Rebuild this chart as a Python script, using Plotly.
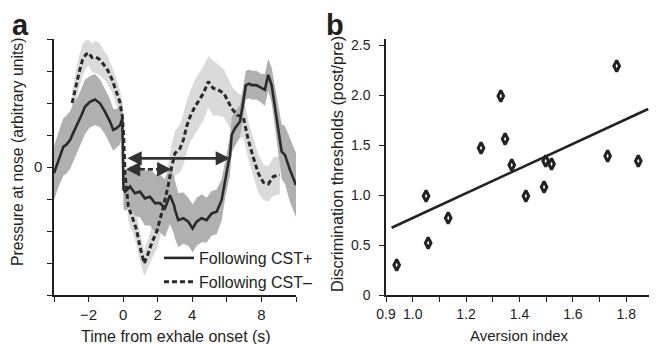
import numpy as np
import plotly.graph_objects as go

# ---------------- Panel a data ----------------
t_plus = [-4.0, -3.75, -3.46, -3.3, -3.07, -2.9, -2.6, -2.4, -2.21, -1.92, -1.63, -1.34, -1.05, -0.76, -0.57, -0.38, -0.18, -0.05,
          0.02, 0.11, 0.4, 0.68, 0.97, 1.26, 1.55, 1.84, 2.13, 2.42,
          2.71, 2.94, 3.0, 3.19, 3.48, 3.77, 4.02, 4.25, 4.54, 4.83,
          5.12, 5.41, 5.7, 5.89, 6.08, 6.18, 6.28, 6.47, 6.76, 6.95,
          7.1, 7.3, 7.43, 7.7, 8.01, 8.2, 8.39, 8.59, 8.88, 9.17,
          9.36, 9.65, 10.0]
v_plus = [-0.19, 0.22, 0.63, 0.69, 0.84, 1.05, 1.37, 1.63, 1.88, 2.04, 2.11, 1.99, 1.73, 1.42, 1.16, 1.21, 1.31, 1.52,
          -0.7, -0.77, -0.61, -0.82, -0.77, -0.98, -0.93, -1.13, -1.13, -1.29,
          -0.88, -1.19, -1.34, -1.66, -1.6, -1.71, -1.92, -1.71, -1.6, -1.66,
          -1.45, -1.4, -1.03, -0.41, 0.11, 0.35, 1.0, 1.21, 1.42, 2.04,
          2.56, 2.6, 2.56, 2.56, 2.46, 2.41, 2.88, 2.56, 1.52, 0.48,
          0.38, -0.09, -0.56]
sem_plus = [0.85, 0.85, 0.9, 0.9, 0.9, 0.9, 0.85, 0.85, 0.85, 0.8, 0.8, 0.75, 0.7, 0.7, 0.65, 0.6, 0.6, 0.55,
            0.6, 0.6, 0.65, 0.7, 0.8, 0.85, 0.9, 0.9, 0.9, 0.9,
            0.9, 0.9, 0.9, 0.85, 0.8, 0.75, 0.75, 0.75, 0.75, 0.7,
            0.7, 0.7, 0.65, 0.6, 0.6, 0.6, 0.55, 0.55, 0.5, 0.5,
            0.45, 0.45, 0.45, 0.45, 0.45, 0.5, 0.5, 0.55, 0.7, 0.85,
            0.9, 1.0, 1.0]

t_minus = [-2.95, -2.75, -2.55, -2.35, -2.15, -2.0, -1.8, -1.6, -1.4, -1.15, -0.9, -0.65, -0.4, -0.2, -0.05,
           0.03, 0.11, 0.3, 0.59, 0.78, 0.97, 1.22, 1.45, 1.65, 1.94,
           2.3, 2.6, 2.81, 3.0, 3.29, 3.48, 3.67, 3.87, 4.15, 4.4,
           4.64, 4.93, 5.21, 5.5, 5.83, 6.28, 6.6, 6.95, 7.24, 7.53,
           7.82, 8.11, 8.4, 8.69, 9.07]
v_minus = [2.0, 2.5, 2.95, 3.35, 3.52, 3.57, 3.42, 3.44, 3.38, 3.22, 3.03, 2.75, 2.35, 2.05, 1.6,
           1.0, -0.2, -1.24, -1.66, -1.97, -2.49, -3.01, -2.7, -2.38, -2.02,
           -1.3, -0.6, 0.01, 0.43, 0.58, 0.84, 1.26, 1.57, 1.88, 2.09,
           2.3, 2.67, 2.46, 2.41, 2.3, 1.83, 1.62, 1.57, 0.84, 0.3,
           -0.2, -0.48, -0.53, -0.3, -0.25]
sem_minus = [0.4, 0.45, 0.5, 0.5, 0.45, 0.4, 0.45, 0.5, 0.5, 0.45, 0.45, 0.4, 0.4, 0.4, 0.35,
             0.4, 0.4, 0.45, 0.45, 0.5, 0.45, 0.4, 0.45, 0.5, 0.55,
             0.6, 0.65, 0.7, 0.7, 0.75, 0.8, 0.8, 0.8, 0.85, 0.85,
             0.85, 0.8, 0.85, 0.8, 0.75, 0.7, 0.7, 0.65, 0.6, 0.6,
             0.6, 0.55, 0.55, 0.6, 0.6]

# double-arrow endpoints (time, level)
arrow_solid = {"x": [0.16, 6.18], "y": 0.27}
arrow_dashed = {"x": [0.16, 2.79], "y": -0.07}

a_xticks = [-4, -2, 0, 2, 4, 6, 8, 10]
a_xticktext = ["", "\u22122", "0", "2", "4", "", "8", ""]
a_yticks = [-4, -3, -2, -1, 0, 1, 2, 3, 4]
a_yticktext = ["", "", "", "", "0", "", "", "", ""]

# ---------------- Panel b data ----------------
aversion = [0.94, 1.05, 1.058, 1.133, 1.256, 1.33, 1.346, 1.371, 1.424, 1.492, 1.498, 1.52, 1.73, 1.764, 1.845]
thresholds = [0.30, 0.99, 0.52, 0.77, 1.47, 1.99, 1.56, 1.30, 0.99, 1.08, 1.34, 1.31, 1.39, 2.29, 1.34]
fit_x = [0.921, 1.882]
fit_y = [0.673, 1.86]

b_xticks = [0.9, 1.0, 1.1, 1.2, 1.3, 1.4, 1.5, 1.6, 1.7, 1.8]
b_xticktext = ["0.9", "1.0", "", "1.2", "", "1.4", "", "1.6", "", "1.8"]
b_yticks = [0, 0.5, 1.0, 1.5, 2.0, 2.5]
b_yticktext = ["0", "0.5", "1.0", "1.5", "2.0", "2.5"]

FONT = "Liberation Sans, Arial, Helvetica, sans-serif"
INK = "#231f20"
DARK_BAND = "rgb(176,176,176)"
LIGHT_BAND = "rgb(218,218,218)"

fig = go.Figure()

def band(t, v, s, color):
    t = np.array(t); v = np.array(v); s = np.array(s)
    xs = np.concatenate([t, t[::-1]])
    ys = np.concatenate([v + s, (v - s)[::-1]])
    return go.Scatter(x=xs, y=ys, fill="toself", fillcolor=color, line=dict(width=0),
                      mode="lines", hoverinfo="skip", showlegend=False, xaxis="x", yaxis="y")

fig.add_trace(band(t_minus, v_minus, sem_minus, LIGHT_BAND))
fig.add_trace(band(t_plus, v_plus, sem_plus, DARK_BAND))

fig.add_trace(go.Scatter(x=t_plus, y=v_plus, mode="lines", name="Following CST+",
                         line=dict(color="#2a2a2a", width=2.6), xaxis="x", yaxis="y"))
fig.add_trace(go.Scatter(x=t_minus, y=v_minus, mode="lines", name="Following CST\u2013",
                         line=dict(color="#2a2a2a", width=3, dash="5px,3px"), xaxis="x", yaxis="y"))

# dashed arrow shaft
fig.add_trace(go.Scatter(x=[arrow_dashed["x"][0] + 0.35, arrow_dashed["x"][1] - 0.35],
                         y=[arrow_dashed["y"], arrow_dashed["y"]], mode="lines",
                         line=dict(color="#333333", width=2.6, dash="5px,3px"),
                         showlegend=False, hoverinfo="skip", xaxis="x", yaxis="y"))

# panel b
fig.add_trace(go.Scatter(x=fit_x, y=fit_y, mode="lines", line=dict(color="#222222", width=2.6),
                         showlegend=False, xaxis="x2", yaxis="y2"))
fig.add_trace(go.Scatter(x=aversion, y=thresholds, mode="markers",
                         marker=dict(symbol="diamond-tall", size=8, color="white",
                                     line=dict(color="#222222", width=3)),
                         showlegend=False, xaxis="x2", yaxis="y2"))

annotations = []
annotations.append(dict(x=arrow_solid["x"][1], y=arrow_solid["y"], ax=arrow_solid["x"][0], ay=arrow_solid["y"],
                        xref="x", yref="y", axref="x", ayref="y", text="", showarrow=True,
                        arrowhead=2, arrowside="end+start", arrowsize=1.1, arrowwidth=2.6, arrowcolor="#333333"))
annotations.append(dict(x=arrow_dashed["x"][0], y=arrow_dashed["y"], ax=12, ay=0, xref="x", yref="y",
                        text="", showarrow=True, arrowhead=2, arrowsize=1.1, arrowwidth=2.6, arrowcolor="#333333"))
annotations.append(dict(x=arrow_dashed["x"][1], y=arrow_dashed["y"], ax=-12, ay=0, xref="x", yref="y",
                        text="", showarrow=True, arrowhead=2, arrowsize=1.1, arrowwidth=2.6, arrowcolor="#333333"))

# page is shown with the browser's 8px body margin; coordinates below are window pixels
def px2paper_x(px):
    return (px - 54) / 603.0

def px2paper_y(py):
    return (295 - py) / 256.0

annotations += [
    dict(text="Time from exhale onset (s)", x=px2paper_x(175.5), y=px2paper_y(336), xref="paper", yref="paper",
         showarrow=False, font=dict(family=FONT, size=16, color=INK), xanchor="center", yanchor="middle"),
    dict(text="Pressure at nose (arbitrary units)", x=px2paper_x(17), y=px2paper_y(152), xref="paper", yref="paper",
         showarrow=False, font=dict(family=FONT, size=15.7, color=INK), textangle=-90, xanchor="center", yanchor="middle"),
    dict(text="Aversion index", x=px2paper_x(519), y=px2paper_y(335), xref="paper", yref="paper",
         showarrow=False, font=dict(family=FONT, size=15, color=INK), xanchor="center", yanchor="middle"),
    dict(text="Discrimination thresholds (post/pre)", x=px2paper_x(337), y=px2paper_y(164), xref="paper", yref="paper",
         showarrow=False, font=dict(family=FONT, size=16.3, color=INK), textangle=-90, xanchor="center", yanchor="middle"),
    dict(text="<b>a</b>", x=px2paper_x(10), y=px2paper_y(24.5), xref="paper", yref="paper",
         showarrow=False, font=dict(family=FONT, size=29, color=INK), xanchor="left", yanchor="middle"),
    dict(text="<b>b</b>", x=px2paper_x(324), y=px2paper_y(24.5), xref="paper", yref="paper",
         showarrow=False, font=dict(family=FONT, size=29, color=INK), xanchor="left", yanchor="middle"),
]

axis_common = dict(showgrid=False, zeroline=False, showline=True, linecolor=INK, linewidth=1.5,
                   ticks="outside", ticklen=5, tickwidth=1.2, tickcolor=INK)

fig.update_layout(
    width=649, height=336,
    margin=dict(l=46, r=0, t=31, b=49),
    paper_bgcolor="white", plot_bgcolor="white",
    font=dict(family=FONT, color=INK),
    xaxis=dict(domain=[0, px2paper_x(296)], range=[-4, 10], tickvals=a_xticks, ticktext=a_xticktext,
               anchor="y", tickfont=dict(family=FONT, size=15, color=INK), **axis_common),
    yaxis=dict(domain=[0, 1], range=[-4, 4], tickvals=a_yticks, ticktext=a_yticktext,
               anchor="x", ticklabelstandoff=2, tickfont=dict(family=FONT, size=15, color=INK), **axis_common),
    xaxis2=dict(domain=[px2paper_x(386), 1], range=[0.9, 1.915], tickvals=b_xticks, ticktext=b_xticktext,
                anchor="y2", tickfont=dict(family=FONT, size=14, color=INK), **axis_common),
    yaxis2=dict(domain=[0, 1], range=[0, 2.56], tickvals=b_yticks, ticktext=b_yticktext,
                anchor="x2", ticklabelstandoff=6, tickfont=dict(family=FONT, size=14, color=INK), **axis_common),
    legend=dict(x=px2paper_x(159), y=px2paper_y(241), xanchor="left", yanchor="top",
                font=dict(family=FONT, size=16, color=INK), bgcolor="rgba(0,0,0,0)",
                tracegroupgap=0, itemwidth=30),
    annotations=annotations,
    showlegend=True,
)

fig.write_html("out.html")
